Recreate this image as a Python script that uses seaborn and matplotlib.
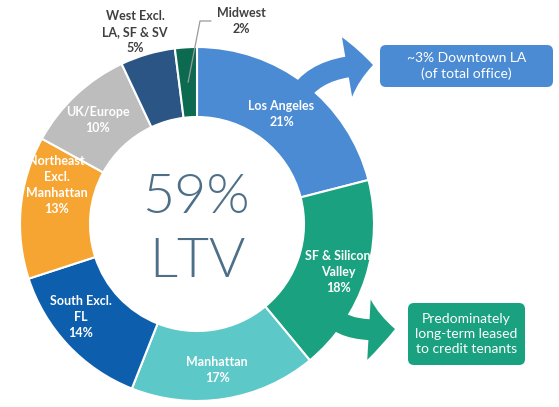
import matplotlib
matplotlib.use("Agg")
import matplotlib.pyplot as plt
import numpy as np
import seaborn as sns
from matplotlib import font_manager
from matplotlib.patches import FancyArrowPatch, FancyBboxPatch

# data
regions = [
    "Los Angeles", "SF & Silicon\nValley", "Manhattan", "South Excl.\nFL",
    "Northeast\nExcl.\nManhattan", "UK/Europe", "West Excl.\nLA, SF & SV", "Midwest",
]
shares = [21, 18, 17, 14, 13, 10, 5, 2]
colors = ["#4B8BD3", "#1AA17F", "#5DC8C8", "#0D5EAC",
          "#F6A532", "#BDBDBD", "#2A5584", "#0C6A50"]
center_text = ["59%", "LTV"]
la_note = "~3% Downtown LA\n(of total office)"
sf_note = "Predominately\nlong-term leased\nto credit tenants"

sns.set_theme(style="white")
plt.rcParams["font.family"] = ["Lato", "DejaVu Sans"]

# light face for the big centre text, if the file is there
light = [f for f in font_manager.findSystemFonts() if "Lato-Light." in f]
if light:
    big_font = font_manager.FontProperties(fname=light[0], size=40)
else:
    big_font = font_manager.FontProperties(family="Lato", size=40)

W, H = 559, 407
fig = plt.figure(figsize=(W / 100, H / 100), dpi=100)
ax = fig.add_axes([0, 0, 1, 1])

cx, cy = 197, H - 224
r_out, ring = 177, 70
wedges, _ = ax.pie(
    shares, colors=colors, startangle=90, counterclock=False,
    radius=r_out, center=(cx, cy),
    wedgeprops=dict(width=ring, edgecolor="white", linewidth=1.5),
)
ax.set_xlim(0, W)
ax.set_ylim(0, H)
ax.set_aspect("auto")
ax.axis("off")

# labels inside the ring (nudges in pixels)
nudges = [(-2.5, -2), (6, -4), (-2, -6), (-13, 4), (1, 25.5), (-2, 0)]
r_mid = r_out - ring / 2
for w, name, pct, (dx, dy) in zip(wedges, regions, shares, nudges):
    ang = np.deg2rad((w.theta1 + w.theta2) / 2)
    x = cx + r_mid * np.cos(ang) + dx
    y = cy + r_mid * np.sin(ang) + dy
    ax.text(x, y, f"{name}\n{pct}%", ha="center", va="center", color="white",
            fontsize=9, fontweight="bold", linespacing=1.4)

# outside labels
ax.text(135, H - 32, f"{regions[6]}\n{shares[6]}%", ha="center", va="center",
        color="#404040", fontsize=9, fontweight="bold", linespacing=1.4)
ax.text(241, H - 21, f"{regions[7]}\n{shares[7]}%", ha="center", va="center",
        color="#404040", fontsize=9, fontweight="bold", linespacing=1.4)
mw = wedges[7]
ang = np.deg2rad((mw.theta1 + mw.theta2) / 2)
x0, y0 = cx + r_mid * np.cos(ang), cy + r_mid * np.sin(ang)
ax.plot([x0, 200, 211], [y0, H - 21, H - 21], color="#9A9A9A", lw=0.9)

# center text
ax.text(cx - 1, H - 213, center_text[0], ha="center", va="baseline",
        color="#4D6F87", fontproperties=big_font)
ax.text(cx, H - 277, center_text[1], ha="center", va="baseline",
        color="#4D6F87", fontproperties=big_font)

# callout boxes
for (x1, y1, x2, y2), col, txt in [
    ((380, 45, 553, 87), colors[0], la_note),
    ((408, 303, 525, 365), colors[1], sf_note),
]:
    box = FancyBboxPatch((x1, H - y2), x2 - x1, y2 - y1,
                         boxstyle="round,pad=0,rounding_size=6",
                         fc=col, ec="none")
    ax.add_patch(box)
    ax.text((x1 + x2) / 2, H - (y1 + y2) / 2, txt, ha="center", va="center",
            color="white", fontsize=10, linespacing=1.3)

# arrows
arrow = "simple,head_width=2.9,head_length=1.25,tail_width=1.0"
ax.add_patch(FancyArrowPatch((298, H - 97), (373, H - 65),
                             connectionstyle="angle3,angleA=60,angleB=0",
                             arrowstyle=arrow, shrinkA=0, shrinkB=0,
                             mutation_scale=15, color=colors[0], lw=0))
ax.add_patch(FancyArrowPatch((332, H - 314), (395, H - 329),
                             connectionstyle="angle3,angleA=-60,angleB=5",
                             arrowstyle=arrow, shrinkA=0, shrinkB=0,
                             mutation_scale=15, color=colors[1], lw=0))

fig.savefig("out.png", dpi=100, facecolor="white")
